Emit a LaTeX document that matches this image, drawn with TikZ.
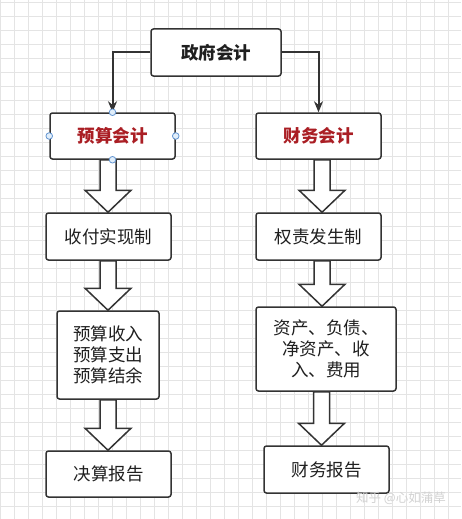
\documentclass[tikz,border=0pt]{standalone}
\usepackage{fontspec}
\setmainfont{Noto Sans CJK SC}
\usetikzlibrary{calc,arrows.meta}
\definecolor{boxline}{RGB}{51,51,51}
\definecolor{redtext}{RGB}{170,30,36}
\definecolor{gridc}{RGB}{228,228,228}
\definecolor{handle}{RGB}{100,150,210}
\definecolor{handlefill}{RGB}{225,238,250}
\tikzset{
  box/.style={draw=boxline, line width=1.5pt, rounded corners=2.5pt, fill=white,
    align=center, inner sep=0pt, font=\fontsize{17.5}{21.3}\selectfont, text=black!88},
  boldbox/.style={box, font=\fontsize{17.5}{21.3}\selectfont\bfseries},
  conn/.style={color=boxline, line width=2pt, arrows={-Stealth[length=11pt,width=9pt]}},
  blockarr/.style={draw=boxline, line width=1.5pt, fill=white, line join=miter},
  selhandle/.style={draw=handle, fill=handlefill, line width=0.8pt}
}
\newcommand\blkarrow[3]{%
  \path[blockarr] let \p1=(#2), \p2=(#3) in
    (#1pt-8pt,\y1) -- (#1pt-8pt,\y2+22pt) -- (#1pt-23pt,\y2+22pt) -- (#1pt,\y2)
    -- (#1pt+23pt,\y2+22pt) -- (#1pt+8pt,\y2+22pt) -- (#1pt+8pt,\y1) -- cycle;}
\begin{document}
\begin{tikzpicture}[x=1pt,y=-1pt]
\useasboundingbox (0,0) rectangle (461,519);
\fill[white] (0,0) rectangle (461,519);
\foreach \i in {0,14,...,461} \draw[gridc, line width=0.6pt] (\i,0) -- (\i,519);
\foreach \j in {2,16,...,519} \draw[gridc, line width=0.6pt] (0,\j) -- (461,\j);

\node[boldbox, minimum width=130pt, minimum height=47pt] (gov) at (216,52.5) {政府会计};
\node[boldbox, text=redtext, minimum width=125pt, minimum height=46pt] (ys) at (112.5,136) {预算会计};
\node[boldbox, text=redtext, minimum width=125pt, minimum height=46pt] (cw) at (318.5,136) {财务会计};
\node[box, minimum width=125pt, minimum height=47pt] (sf) at (108.5,236.5) {收付实现制};
\node[box, minimum width=125pt, minimum height=47pt] (qz) at (318.5,236.5) {权责发生制};
\node[box, minimum width=102pt, minimum height=88pt] (ysr) at (108,355) {预算收入\\预算支出\\预算结余};
\node[box, minimum width=140pt, minimum height=84pt] (zc) at (326,349) {资产、负债、\\净资产、收\\入、费用};
\node[box, minimum width=125pt, minimum height=46pt] (js) at (108.5,474) {决算报告};
\node[box, minimum width=125pt, minimum height=47pt] (cb) at (326.5,469.5) {财务报告};

\draw[conn] (gov.west) -| (ys.north);
\draw[conn] (gov.east) -| (cw.north);

\blkarrow{108}{ys.south}{sf.north}
\blkarrow{322}{cw.south}{qz.north}
\blkarrow{108}{sf.south}{ysr.north}
\blkarrow{322}{qz.south}{zc.north}
\blkarrow{108}{ysr.south}{js.north}
\blkarrow{321.5}{zc.south}{cb.north}

\foreach \a in {north,south,east,west} \draw[selhandle] (ys.\a) circle (3.3pt);

\node[text=gray!35, font=\fontsize{12.5}{14}\selectfont, inner sep=0pt] (wm) at (401,498) {知乎 @心如蒲草};
\end{tikzpicture}
\end{document}
